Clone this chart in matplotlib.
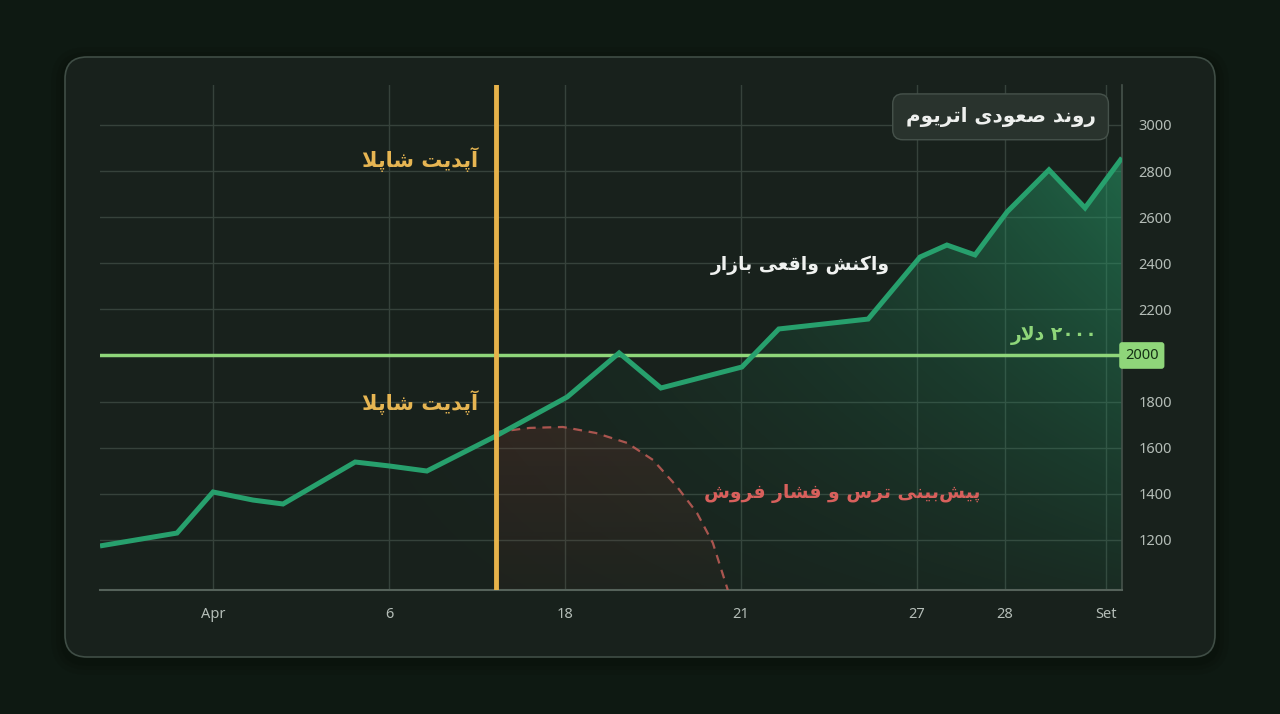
import re
import numpy as np
import matplotlib.pyplot as plt
from matplotlib.patches import FancyBboxPatch, Polygon
from matplotlib.transforms import IdentityTransform, blended_transform_factory

# --- data ---
x_ticks = [0, 4, 8, 12, 16, 18, 20.3]
x_labels = ['Apr', '6', '18', '21', '27', '28', 'Set']
y_ticks = [1200, 1400, 1600, 1800, 2000, 2200, 2400, 2600, 2800, 3000]

price_x = [-2.57, -0.82, 0, 0.91, 1.59, 3.23, 4.0, 4.86, 6.43, 8.05, 9.23, 10.18,
           12.02, 12.86, 14.89, 16.07, 16.68, 17.32, 18.05, 19.0, 19.82, 20.66]
price_y = [1174, 1230, 1408, 1373, 1356, 1538, 1521, 1499, 1651, 1820, 2011, 1859,
           1950, 2115, 2158, 2427, 2479, 2436, 2623, 2805, 2640, 2857]

fear_x = [6.43, 7.2, 7.95, 8.7, 9.41, 10.0, 10.55, 11.0, 11.36, 11.70]
fear_y = [1668, 1686, 1690, 1664, 1621, 1547, 1430, 1317, 1187, 983]

shapella_x = 6.43
level = 2000

title = 'روند صعودی اتریوم'
update_label = 'آپدیت شاپلا'
market_label = 'واکنش واقعی بازار'
level_label = '۲۰۰۰ دلار'
fear_label = 'پیش\u200cبینی ترس و فشار فروش'

# --- tiny arabic shaper (matplotlib does not shape RTL text) ---
FORMS = {
    'ا': ('\uFE8D', '\uFE8E', None, None),
    'آ': ('\uFE81', '\uFE82', None, None),
    'ب': ('\uFE8F', '\uFE90', '\uFE91', '\uFE92'),
    'پ': ('\uFB56', '\uFB57', '\uFB58', '\uFB59'),
    'ت': ('\uFE95', '\uFE96', '\uFE97', '\uFE98'),
    'د': ('\uFEA9', '\uFEAA', None, None),
    'ر': ('\uFEAD', '\uFEAE', None, None),
    'ز': ('\uFEAF', '\uFEB0', None, None),
    'س': ('\uFEB1', '\uFEB2', '\uFEB3', '\uFEB4'),
    'ش': ('\uFEB5', '\uFEB6', '\uFEB7', '\uFEB8'),
    'ص': ('\uFEB9', '\uFEBA', '\uFEBB', '\uFEBC'),
    'ع': ('\uFEC9', '\uFECA', '\uFECB', '\uFECC'),
    'ف': ('\uFED1', '\uFED2', '\uFED3', '\uFED4'),
    'ق': ('\uFED5', '\uFED6', '\uFED7', '\uFED8'),
    'ک': ('\uFB8E', '\uFB8F', '\uFB90', '\uFB91'),
    'ل': ('\uFEDD', '\uFEDE', '\uFEDF', '\uFEE0'),
    'م': ('\uFEE1', '\uFEE2', '\uFEE3', '\uFEE4'),
    'ن': ('\uFEE5', '\uFEE6', '\uFEE7', '\uFEE8'),
    'و': ('\uFEED', '\uFEEE', None, None),
    'ی': ('\uFBFC', '\uFBFD', '\uFBFE', '\uFBFF'),
}
LAMALEF = {'ا': ('\uFEFB', '\uFEFC'), 'آ': ('\uFEF5', '\uFEF6')}


def fwd(c):
    return c in FORMS and FORMS[c][2] is not None


def shape(txt):
    out, prev, i = [], None, 0
    while i < len(txt):
        c = txt[i]
        if c not in FORMS:
            out.append('' if c == '\u200c' else c)
            prev = None
            i += 1
            continue
        nxt = txt[i + 1] if i + 1 < len(txt) else ''
        p = prev is not None and fwd(prev)
        if c == 'ل' and nxt in LAMALEF:
            out.append(LAMALEF[nxt][1 if p else 0])
            prev = nxt
            i += 2
            continue
        q = fwd(c) and nxt in FORMS
        iso, fin, ini, med = FORMS[c]
        out.append(med if p and q else ini if q else fin if p else iso)
        prev = c
        i += 1
    s = ''.join(out)[::-1]
    return re.sub('[0-9\u06F0-\u06F9]+', lambda m: m.group(0)[::-1], s)


# --- figure ---
fig = plt.figure(figsize=(12.8, 7.14), dpi=100)
fig.patch.set_facecolor('#0e1912')

# soft shadow + card
for k, a in [(14, 0.10), (9, 0.12), (5, 0.15)]:
    fig.add_artist(FancyBboxPatch((65 - k, 57 - k - 4), 1150 + 2 * k, 600 + 2 * k,
                                  boxstyle='round,pad=0,rounding_size=%d' % (22 + k),
                                  transform=IdentityTransform(), facecolor='#050a07',
                                  edgecolor='none', alpha=a, zorder=-6))
card = FancyBboxPatch((65, 57), 1150, 600, boxstyle='round,pad=0,rounding_size=22',
                      transform=IdentityTransform(), facecolor='#18211c',
                      edgecolor='#3f4d45', lw=1.2, zorder=-5)
fig.add_artist(card)

ax = fig.add_axes([100 / 1280, 124 / 714, 1022 / 1280, 505 / 714])
ax.set_facecolor('none')
ax.set_xlim(price_x[0], price_x[-1])
ax.set_ylim(983, 3173)

ax.set_xticks(x_ticks)
ax.set_xticklabels(x_labels)
ax.set_yticks(y_ticks)
ax.set_yticklabels(['' if v == level else str(v) for v in y_ticks])
ax.yaxis.tick_right()
ax.tick_params(axis='both', length=0, colors='#b4bdb7', labelsize=10.5)
ax.tick_params(axis='x', pad=12)
ax.tick_params(axis='y', pad=12)
for lab in ax.get_xticklabels() + ax.get_yticklabels():
    lab.set_family('Noto Sans')
ax.grid(True, color='#36423b', lw=1)
for s in ['top', 'left']:
    ax.spines[s].set_visible(False)
ax.spines['bottom'].set_color('#55625a')
ax.spines['bottom'].set_linewidth(1.5)
ax.spines['right'].set_color('#46534b')
ax.spines['right'].set_linewidth(1.2)


def gradient_fill(xs, ys, rgb, alpha_fn, z):
    x0, x1 = ax.get_xlim()
    y0, y1 = ax.get_ylim()
    poly = np.column_stack([np.r_[xs[0], xs, xs[-1]], np.r_[y0, ys, y0]])
    patch = Polygon(poly, closed=True, facecolor='none', edgecolor='none')
    ax.add_patch(patch)
    gx, gy = np.meshgrid(np.linspace(0, 1, 400), np.linspace(0, 1, 300))
    img = np.zeros((300, 400, 4))
    img[..., :3] = rgb
    img[..., 3] = alpha_fn(gx, gy)
    im = ax.imshow(img, extent=[x0, x1, y0, y1], origin='lower', aspect='auto',
                   zorder=z, interpolation='bilinear')
    im.set_clip_path(patch)
    ax.set_xlim(x0, x1)
    ax.set_ylim(y0, y1)


gradient_fill(price_x, price_y, (0.15, 0.62, 0.42),
              lambda gx, gy: 0.62 * gx ** 2.4 * (0.15 + 0.85 * gy), 2)
gradient_fill(fear_x, fear_y, (0.62, 0.22, 0.2),
              lambda gx, gy: 0.05 + 0.42 * gy, 2)

ax.plot(fear_x, fear_y, color='#c25e58', lw=1.6, dashes=(4, 3), alpha=0.85, zorder=3)
ax.axhline(level, color='#8fd67a', lw=2.5, zorder=4)
ax.plot(price_x, price_y, color='#27a06d', lw=3.6, solid_joinstyle='miter',
        solid_capstyle='butt', zorder=5)
ax.axvline(shapella_x, color='#e6b24a', lw=3.5, zorder=6)

arab = dict(family='DejaVu Sans', fontweight='bold')
ax.text(6.02, 2848, shape(update_label), color='#e6b552', fontsize=15, ha='right',
        va='center', zorder=7, **arab)
ax.text(6.02, 1798, shape(update_label), color='#e6b552', fontsize=15, ha='right',
        va='center', zorder=7, **arab)
ax.text(13.34, 2393, shape(market_label), color='#f0f2f0', fontsize=13.5, ha='center',
        va='center', zorder=7, **arab)
ax.text(20.11, 2085, shape(level_label), color='#8fd67a', fontsize=13.5, ha='right',
        va='center', zorder=7, **arab)
ax.text(14.3, 1400, shape(fear_label), color='#d8605c', fontsize=13.5, ha='center',
        va='center', zorder=7, **arab)
ax.text(17.9, 3035, shape(title), color='#eef0ee', fontsize=14.3, ha='center',
        va='center', zorder=8,
        bbox=dict(boxstyle='round,pad=0.65,rounding_size=0.5', fc='#29332d',
                  ec='#46524b', lw=1), **arab)

tr = blended_transform_factory(ax.transAxes, ax.transData)
ax.text(1.003, level, '2000', transform=tr, color='#153015', fontsize=10.5, ha='left',
        va='center', family='Noto Sans', zorder=9, clip_on=False,
        bbox=dict(boxstyle='round,pad=0.4,rounding_size=0.2', fc='#8fd67a', ec='none'))

fig.savefig('out.png', dpi=100, facecolor=fig.get_facecolor())
